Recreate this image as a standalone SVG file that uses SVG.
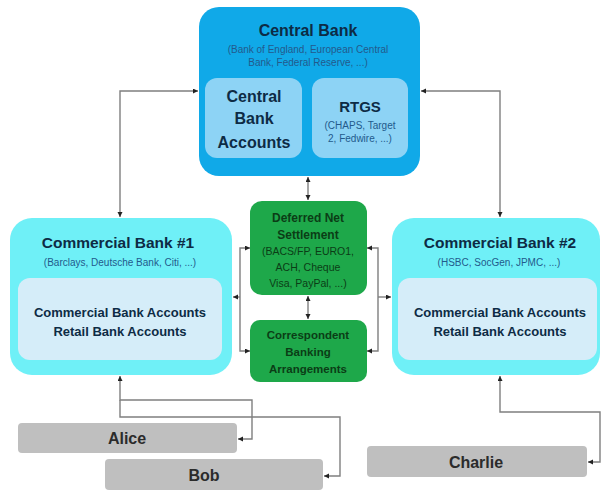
<svg xmlns="http://www.w3.org/2000/svg" width="602" height="493" viewBox="0 0 602 493">
<style>
text{font-family:"Liberation Sans",Arial,sans-serif;text-anchor:middle}
.b{font-weight:bold}
.cbt{fill:#0d2b45}
.sub{fill:#235a8c;font-size:10px}
.gt{fill:#0b3d16}
.conn{fill:none;stroke:#7f7f7f;stroke-width:1.4}
.pt{fill:#2b2b2b}
</style>
<defs>
<marker id="ah" markerUnits="userSpaceOnUse" markerWidth="7" markerHeight="7" refX="5" refY="2.5" orient="auto-start-reverse">
<path d="M0,0 L5,2.5 L0,5 z" fill="#222"/>
</marker>
</defs>
<rect width="602" height="493" fill="#ffffff"/>
<g id="connectors">
<path class="conn" d="M198,91 H120 V217" marker-start="url(#ah)" marker-end="url(#ah)"/>
<path class="conn" d="M421,91 H500 V217" marker-start="url(#ah)" marker-end="url(#ah)"/>
<path class="conn" d="M308,177 V200" marker-start="url(#ah)" marker-end="url(#ah)"/>
<path class="conn" d="M308,296 V319" marker-start="url(#ah)" marker-end="url(#ah)"/>
<path class="conn" d="M250,248 H240 V351 H250" marker-start="url(#ah)" marker-end="url(#ah)"/>
<path class="conn" d="M240,297 H233" marker-end="url(#ah)"/>
<path class="conn" d="M367,248 H378 V351 H367" marker-start="url(#ah)" marker-end="url(#ah)"/>
<path class="conn" d="M378,297 H391" marker-end="url(#ah)"/>
<path class="conn" d="M120,376 V400 H252 V439 H238" marker-start="url(#ah)" marker-end="url(#ah)"/>
<path class="conn" d="M120,400 V417 H340 V476 H324" marker-end="url(#ah)"/>
<path class="conn" d="M500,376 V412 H600 V462 H588" marker-start="url(#ah)" marker-end="url(#ah)"/>
</g>
<g id="central-bank">
<rect x="199" y="7" width="221" height="169" rx="20" fill="#10a9e8"/>
<text class="b cbt" x="308" y="36" font-size="16">Central Bank</text>
<text class="sub" x="308" y="53">(Bank of England, European Central</text>
<text class="sub" x="308" y="66">Bank, Federal Reserve, ...)</text>
</g>
<g id="central-bank-accounts">
<rect x="205" y="78" width="97" height="80" rx="12" fill="#8dd3f5"/>
<text class="b cbt" x="254" y="102" font-size="16">Central</text>
<text class="b cbt" x="254" y="124" font-size="16">Bank</text>
<text class="b cbt" x="254" y="148" font-size="16">Accounts</text>
</g>
<g id="rtgs">
<rect x="312" y="78" width="96" height="80" rx="12" fill="#8dd3f5"/>
<text class="b cbt" x="360" y="112" font-size="15">RTGS</text>
<text class="sub" x="360" y="129">(CHAPS, Target</text>
<text class="sub" x="360" y="142">2, Fedwire, ...)</text>
</g>
<g id="commercial-bank-1">
<rect x="10" y="218" width="222" height="157" rx="22" fill="#6ff0f7"/>
<text class="b cbt" x="118" y="248" font-size="15.5">Commercial Bank #1</text>
<text class="sub" x="120" y="266">(Barclays, Deutsche Bank, Citi, ...)</text>
<rect x="18" y="278" width="204" height="82" rx="12" fill="#d5edf9"/>
<text class="b cbt" x="120" y="317" font-size="13">Commercial Bank Accounts</text>
<text class="b cbt" x="120" y="336" font-size="13">Retail Bank Accounts</text>
</g>
<g id="commercial-bank-2">
<rect x="392" y="218" width="208" height="157" rx="22" fill="#6ff0f7"/>
<text class="b cbt" x="500" y="248" font-size="15.5">Commercial Bank #2</text>
<text class="sub" x="499" y="266">(HSBC, SocGen, JPMC, ...)</text>
<rect x="398" y="278" width="199" height="82" rx="12" fill="#d5edf9"/>
<text class="b cbt" x="500" y="317" font-size="13">Commercial Bank Accounts</text>
<text class="b cbt" x="500" y="336" font-size="13">Retail Bank Accounts</text>
</g>
<g id="deferred-net-settlement">
<rect x="250" y="201" width="117" height="94" rx="12" fill="#1ea84a"/>
<text class="b gt" x="308" y="222" font-size="12">Deferred Net</text>
<text class="b gt" x="308" y="239" font-size="12">Settlement</text>
<text class="gt" x="308" y="255" font-size="10.5">(BACS/FP, EURO1,</text>
<text class="gt" x="308" y="271" font-size="10.5">ACH, Cheque</text>
<text class="gt" x="308" y="287" font-size="10.5">Visa, PayPal, ...)</text>
</g>
<g id="correspondent-banking">
<rect x="250" y="320" width="117" height="62" rx="10" fill="#1ea84a"/>
<text class="b gt" x="308" y="339" font-size="11.5">Correspondent</text>
<text class="b gt" x="308" y="356" font-size="11.5">Banking</text>
<text class="b gt" x="308" y="373" font-size="11.5">Arrangements</text>
</g>
<g id="alice">
<rect x="18" y="423" width="219" height="30" rx="4" fill="#bfbfbf"/>
<text class="b pt" x="127" y="444" font-size="16">Alice</text>
</g>
<g id="bob">
<rect x="105" y="459" width="218" height="31" rx="4" fill="#bfbfbf"/>
<text class="b pt" x="204" y="481" font-size="16">Bob</text>
</g>
<g id="charlie">
<rect x="367" y="446" width="220" height="31" rx="4" fill="#bfbfbf"/>
<text class="b pt" x="476" y="468" font-size="16">Charlie</text>
</g>
</svg>
